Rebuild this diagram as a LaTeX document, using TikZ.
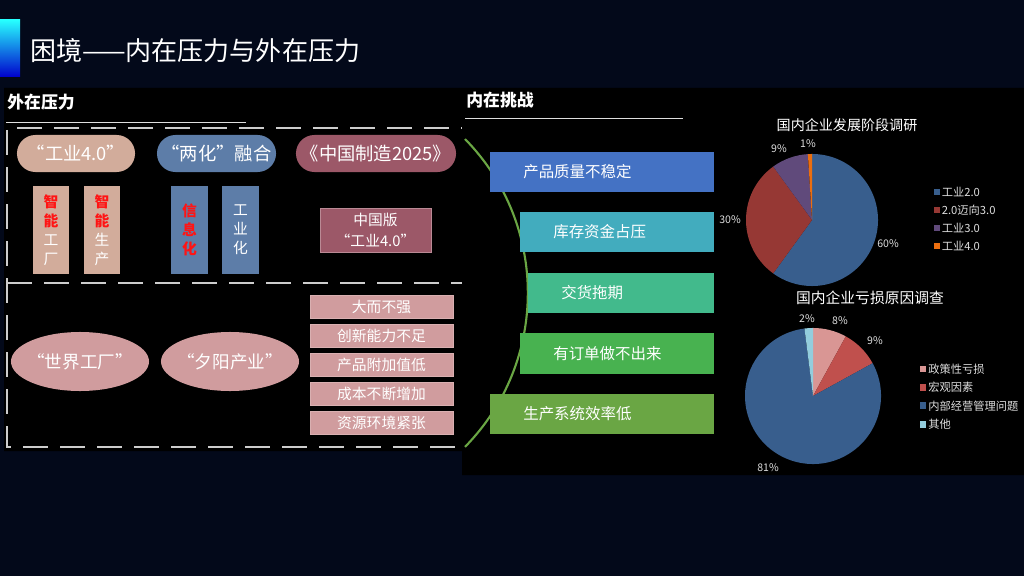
\documentclass[tikz,border=0pt]{standalone}
\usepackage{fontspec}
\setmainfont{Noto Sans CJK SC}
\usepackage{xcolor}
\usepackage{tikz}
\usetikzlibrary{shapes.geometric}
\usetikzlibrary{calc}

\definecolor{bgnavy}{RGB}{3,9,26}
\definecolor{dashgray}{RGB}{205,205,205}
\definecolor{tan}{RGB}{210,172,155}
\definecolor{slate}{RGB}{93,125,168}
\definecolor{mauve}{RGB}{156,88,104}
\definecolor{rose}{RGB}{208,156,158}
\definecolor{hotred}{RGB}{255,20,20}
\definecolor{qblue}{RGB}{68,114,196}
\definecolor{qteal}{RGB}{66,172,190}
\definecolor{qmint}{RGB}{66,186,140}
\definecolor{qgreen}{RGB}{72,178,80}
\definecolor{qolive}{RGB}{106,166,68}
\definecolor{pblue}{RGB}{56,94,141}
\definecolor{pred}{RGB}{150,56,52}
\definecolor{ppurple}{RGB}{96,74,123}
\definecolor{porange}{RGB}{235,110,15}
\definecolor{ppink}{RGB}{217,150,148}
\definecolor{pbrick}{RGB}{192,80,77}
\definecolor{psky}{RGB}{147,205,221}
\definecolor{lgray}{RGB}{222,222,222}

\newcommand{\fsz}[2]{\fontsize{#1pt}{#2pt}\selectfont}
\newcommand{\redch}[1]{{\color{hotred}\bfseries #1}}

\begin{document}
\begin{tikzpicture}[x=0.025cm,y=-0.025cm,
  dashline/.style={draw=dashgray,line width=1pt,dash pattern=on 0.625cm off 0.3cm},
  rule/.style={draw=lgray,line width=0.6pt},
  pill/.style={rounded corners=0.46cm,minimum height=0.925cm,inner sep=0pt,text=white,font=\fsz{13}{15}},
  vbox/.style={minimum width=0.9cm,minimum height=2.2cm,inner sep=0pt,align=center,text=white,font=\fsz{10.5}{13.6}},
  blob/.style={inner sep=0pt,text=white,font=\fsz{12.5}{14}},
  stackbox/.style={fill=rose,draw=rose!80!white,minimum width=3.575cm,minimum height=0.5625cm,inner sep=0pt,text=white,font=\fsz{10.5}{12}},
  pctlbl/.style={text=lgray,font=\fsz{7.5}{9},inner sep=0pt},
  lgsq/.style={minimum size=0.14cm,inner sep=0pt},
  lgtxt/.style={text=lgray,font=\fsz{8}{9},inner sep=1pt,anchor=west}
]
\useasboundingbox (0,0) rectangle (1024,576);
\fill[bgnavy] (0,0) rectangle (1024,576);
\fill[black] (4,88) -- (1024,88) -- (1024,475) -- (462,475) -- (462,451) -- (4,451) -- cycle;

% title
\shade[top color=cyan!85!white,bottom color=blue!80!black] (0,20) rectangle (20,77);
\node[anchor=west,text=white,font=\fsz{18.5}{20},inner sep=0pt] (title) at (30,51) {困境——内在压力与外在压力};

\node[anchor=west,text=white,font=\fsz{12}{14}\bfseries,inner sep=0pt] (ext) at (7,102) {外在压力};
\draw[rule] (6,122) -- (246,122);
\node[anchor=west,text=white,font=\fsz{12}{14}\bfseries,inner sep=0pt] (int) at (466,100) {内在挑战};
\draw[rule] (465,118) -- (683,118);

% external pressure frame
\draw[dashline] (17,128) -- (462,128);
\draw[dashline] (7,130) -- (7,447) -- (462,447);
\draw[dashline] (7,283) -- (462,283);

\begin{scope}[every node/.style={pill}]
	\node[fill=tan,minimum width=2.95cm] (p1) at (76,153.5) {“工业4.0”};
	\node[fill=slate,minimum width=2.975cm] (p2) at (216.5,153.5) {“两化”融合};
	\node[fill=mauve,minimum width=4cm] (p3) at (376,153.5) {《中国制造2025》};
\end{scope}

\node[vbox,fill=tan] (b1) at (51,230) {\redch{智}\\\redch{能}\\工\\厂};
\node[vbox,fill=tan] (b2) at (102,230) {\redch{智}\\\redch{能}\\生\\产};
\node[vbox,fill=slate] (b3) at (189.5,230) {\redch{信}\\\redch{息}\\\redch{化}};
\node[vbox,fill=slate] (b4) at (240.5,230) {工\\业\\化};
\node[fill=mauve,draw=mauve!70!white,minimum width=2.775cm,minimum height=1.1cm,inner sep=0pt,
	align=center,text=white,font=\fsz{10.5}{15}] (cn) at (375.5,230) {中国版\\“工业4.0”};

\foreach \x/\n/\t in {80/e1/“世界工厂”,230/e2/“夕阳产业”}
{
	\fill[rose] (\x,361.5) ellipse [x radius=1.725cm,y radius=0.7375cm];
	\node[blob] (\n) at (\x,361.5) {\t};
}

\foreach \i/\t in {0/大而不强,1/创新能力不足,2/产品附加值低,3/成本不断增加,4/资源环境紧张}
	\node[stackbox] (s\i) at (381.5,{307+29*\i}) {\t};

% internal challenges
\coordinate (arcS) at (465,139);
\draw[qolive,line width=1.5pt] (arcS) arc[start angle=44.4,end angle=-44.4,radius=5.5cm];

\foreach \n/\xl/\yc/\w/\c/\t in {1/490/172/224/qblue/产品质量不稳定,
	2/520/232/194/qteal/库存资金占压,
	3/528/293/186/qmint/交货拖期,
	4/520/353.5/194/qgreen/有订单做不出来,
	5/490/414/224/qolive/生产系统效率低}
{
	\pgfmathsetmacro\tw{(\w-66)*0.025}
	\node[fill=\c,anchor=west,minimum height=1cm,inner xsep=0.825cm,inner ysep=0pt,
		text width=\tw cm,align=left,text=white,font=\fsz{11}{13}] (r\n) at (\xl,\yc) {\t};
}

% chart 1
\node[text=white,font=\fsz{10}{12},inner sep=0pt] (c1) at (847,125) {国内企业发展阶段调研};
\coordinate (pa) at (812,220);
\foreach \a/\b/\c in {90/-126/pblue,-126/-234/pred,-234/-266.4/ppurple,-266.4/-270/porange}
	\fill[\c] (pa) -- ++(\a:1.65cm) arc[start angle=\a,end angle=\b,radius=1.65cm] -- cycle;
\node[pctlbl] (la60) at (888,244) {60\%};
\node[pctlbl] (la30) at (730,220) {30\%};
\node[pctlbl] (la9) at (779,149) {9\%};
\node[pctlbl] (la1) at (808,144) {1\%};
\foreach \i/\c/\t in {0/pblue/工业2.0,1/pred/2.0迈向3.0,2/ppurple/工业3.0,3/porange/工业4.0}
{
	\node[lgsq,fill=\c] (qa\i) at (937,{192+18*\i}) {};
	\node[lgtxt] at (qa\i.east) {\t};
}

% chart 2
\node[text=white,font=\fsz{10.5}{12},inner sep=0pt] (c2) at (870,298) {国内企业亏损原因调查};
\coordinate (pb) at (813,396);
\foreach \a/\b/\c in {90/61.2/ppink,61.2/28.8/pbrick,28.8/-262.8/pblue,-262.8/-270/psky}
	\fill[\c] (pb) -- ++(\a:1.7cm) arc[start angle=\a,end angle=\b,radius=1.7cm] -- cycle;
\node[pctlbl] (lb8) at (840,321) {8\%};
\node[pctlbl] (lb9) at (875,341) {9\%};
\node[pctlbl] (lb81) at (768,468) {81\%};
\node[pctlbl] (lb2) at (807,319) {2\%};
\foreach \i/\c/\t in {0/ppink/政策性亏损,1/pbrick/宏观因素,2/pblue/内部经营管理问题,3/psky/其他}
{
	\node[lgsq,fill=\c,minimum size=0.17cm] (qb\i) at (923,{369+18.4*\i}) {};
	\node[lgtxt] at (qb\i.east) {\t};
}

\end{tikzpicture}
\end{document}
